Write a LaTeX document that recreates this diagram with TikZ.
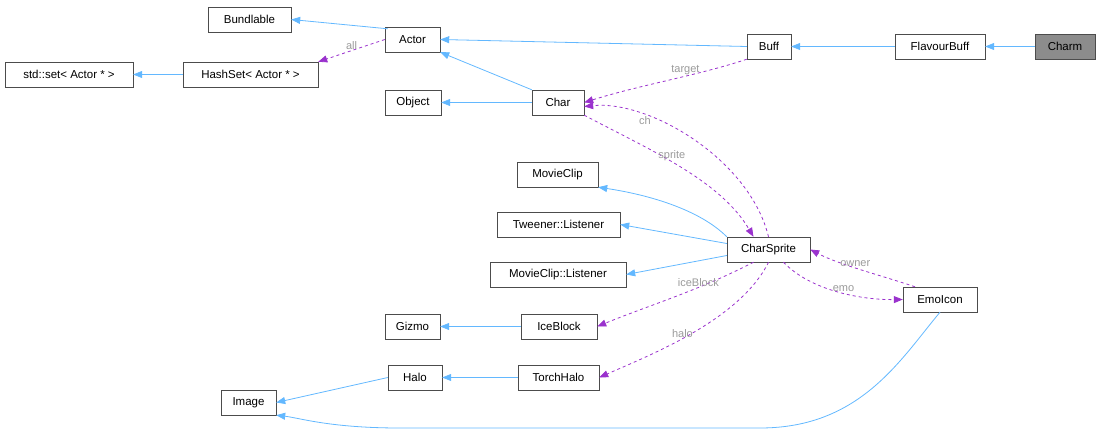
\documentclass[tikz,border=0pt]{standalone}
\usepackage{fontspec}
\setmainfont{Liberation Sans}
\usetikzlibrary{arrows.meta}
\definecolor{inhblue}{HTML}{63B8FF}
\definecolor{relpurple}{HTML}{9A32CD}
\definecolor{lblgray}{HTML}{9A9A9A}
\tikzset{
  cls/.style={draw=black!70, fill=white, minimum height=25pt, inner xsep=6pt, font=\fontsize{11.5}{13}\selectfont},
  cur/.style={cls, fill=black!45},
  inh/.style={-{Triangle[length=9pt,width=7pt]}, draw=inhblue, thick},
  rel/.style={-{Triangle[length=9pt,width=7pt]}, draw=relpurple, dashed, thick},
  lbl/.style={text=lblgray, font=\fontsize{11}{12}\selectfont, inner sep=1pt},
}
\begin{document}
\begin{tikzpicture}[x=1pt, y=-1pt]
\useasboundingbox (0,0) rectangle (1100,433);
%Nodes
\node[cur, minimum width=60pt] (charm) at (1065,46.5) {Charm};
\node[cls, minimum width=90pt] (flavourbuff) at (940,46.5) {FlavourBuff};
\node[cls, minimum width=44pt] (buff) at (769,46.5) {Buff};
\node[cls, minimum width=55pt] (actor) at (412.5,39.5) {Actor};
\node[cls, minimum width=83pt] (bundlable) at (249.5,19.5) {Bundlable};
\node[cls, minimum width=135pt] (hashset) at (250.5,74.5) {HashSet< Actor * >};
\node[cls, minimum width=128pt] (stdset) at (69,74.5) {std::set< Actor * >};
\node[cls, minimum width=56pt] (object) at (413,102.5) {Object};
\node[cls, minimum width=52pt] (char) at (558,102.5) {Char};
\node[cls, minimum width=81pt] (movieclip) at (557.5,174.5) {MovieClip};
\node[cls, minimum width=123pt] (tweener) at (558.5,224.5) {Tweener::Listener};
\node[cls, minimum width=83pt] (charsprite) at (768.5,249.5) {CharSprite};
\node[cls, minimum width=136pt] (mclistener) at (558,274.5) {MovieClip::Listener};
\node[cls, minimum width=55pt] (gizmo) at (412.5,326.5) {Gizmo};
\node[cls, minimum width=76pt] (iceblock) at (559,326.5) {IceBlock};
\node[cls, minimum width=74pt] (emoicon) at (940,299.5) {EmoIcon};
\node[cls, minimum width=54pt] (halo) at (415,377.5) {Halo};
\node[cls, minimum width=81pt] (torchhalo) at (558.5,377.5) {TorchHalo};
\node[cls, minimum width=55pt] (image) at (248.5,402.5) {Image};

%Inheritance
\draw[inh] (charm) -- (flavourbuff);
\draw[inh] (flavourbuff) -- (buff);
\draw[inh] (buff.west) -- (actor.east);
\draw[inh] (actor.north west) ++(3,2) coordinate (a1) -- (bundlable.east);
\draw[inh] (char.north west) -- (actor.south east);
\draw[inh] (char) -- (object);
\draw[inh] (hashset) -- (stdset);
\draw[inh] (charsprite.north west) .. controls (700,210) and (650,195) .. (movieclip.south east);
\draw[inh] (charsprite.west) ++(0,-6) -- (tweener.east);
\draw[inh] (charsprite.west) ++(0,6) -- (mclistener.east);
\draw[inh] (iceblock) -- (gizmo);
\draw[inh] (torchhalo) -- (halo);
\draw[inh] (halo.west) -- (image.east);
\draw[inh] (emoicon.south) .. controls (900,360) and (860,428) .. (760,428)
  -- (400,428) .. controls (330,428) and (300,418) .. (image.south east);

%Members
\draw[rel] (actor.west) -- (hashset.north east) node[lbl, pos=0.5, above] {all};
\draw[rel] (buff.south west) .. controls (700,75) and (640,85) .. (char.east) node[lbl, pos=0.4, above] {target};
\draw[rel] (charsprite.north) .. controls (750,160) and (650,100) .. ([yshift=-4pt]char.east) node[lbl, pos=0.72, below] {ch};
\draw[rel] (char.south east) .. controls (650,150) and (720,180) .. ([xshift=-15pt]charsprite.north) node[lbl, pos=0.45, above] {sprite};
\draw[rel] ([xshift=-15pt]charsprite.south) .. controls (700,290) and (650,305) .. (iceblock.east) node[lbl, pos=0.35, above] {iceBlock};
\draw[rel] (charsprite.south) .. controls (740,320) and (650,355) .. (torchhalo.east) node[lbl, pos=0.55, above] {halo};
\draw[rel] ([xshift=15pt]charsprite.south) .. controls (810,290) and (860,300) .. (emoicon.west) node[lbl, pos=0.55, above] {emo};
\draw[rel] ([xshift=-25pt]emoicon.north) .. controls (880,275) and (840,265) .. (charsprite.east) node[lbl, pos=0.55, above] {owner};
\end{tikzpicture}
\end{document}
